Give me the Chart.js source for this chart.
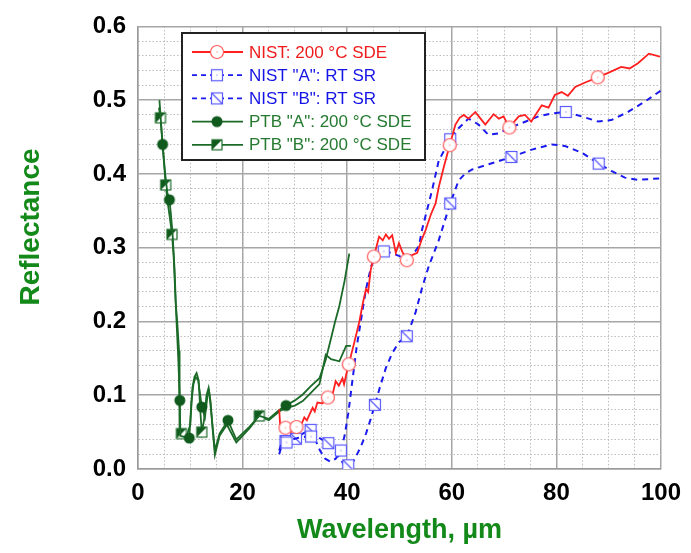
<!DOCTYPE html>
<html>
<head>
<meta charset="utf-8">
<script src="https://cdn.jsdelivr.net/npm/chart.js@4/dist/chart.umd.min.js"></script>
<style>
  html, body { margin: 0; padding: 0; background: #fff; }
  #wrap { width: 691px; height: 553px; }
</style>
</head>
<body>
<div id="wrap"><canvas id="chart" width="691" height="553"></canvas></div>
<script>
/* ==========================================
   DATA (wavelength in um, reflectance)
   ========================================== */

const nistWl = [27.0, 27.2, 28.2, 29.2, 30.3, 31.2, 31.8, 32.3, 32.8, 33.4, 33.8, 34.3, 35.3, 36.3, 37.2, 37.8, 38.4, 39.1, 39.4, 40.1, 40.3, 41.3, 42.3, 43.0, 43.6, 44.0, 44.5, 45.1, 46.1, 46.8, 47.4, 48.0, 48.6, 49.3, 49.9, 50.5, 51.4, 52.4, 53.4, 54.2, 55.0, 56.0, 56.9, 57.5, 58.5, 59.6, 60.7, 61.5, 62.3, 63.2, 64.5, 65.5, 66.4, 68.0, 69.0, 69.9, 71.0, 72.8, 74.0, 75.2, 77.2, 78.5, 79.7, 81.0, 82.2, 83.6, 85.5, 87.9, 89.9, 92.4, 94.0, 95.6, 97.7, 99.8];
const nistR  = [0.081, 0.057, 0.056, 0.050, 0.057, 0.060, 0.070, 0.066, 0.074, 0.083, 0.078, 0.090, 0.089, 0.097, 0.101, 0.119, 0.113, 0.123, 0.115, 0.137, 0.142, 0.170, 0.199, 0.225, 0.244, 0.240, 0.270, 0.288, 0.315, 0.310, 0.318, 0.312, 0.317, 0.293, 0.306, 0.295, 0.283, 0.290, 0.293, 0.310, 0.324, 0.345, 0.360, 0.382, 0.410, 0.439, 0.467, 0.476, 0.480, 0.475, 0.484, 0.475, 0.467, 0.481, 0.475, 0.478, 0.463, 0.478, 0.480, 0.471, 0.493, 0.490, 0.507, 0.511, 0.506, 0.518, 0.524, 0.531, 0.537, 0.545, 0.543, 0.550, 0.563, 0.559];
const nistMarks = [28.2, 30.3, 36.3, 40.3, 45.1, 51.4, 59.6, 71.0, 87.9];

const nistAWl = [27.0, 27.6, 28.4, 29.5, 31.0, 33.1, 34.0, 34.8, 35.8, 36.8, 37.8, 38.8, 39.5, 40.2, 41.0, 41.8, 42.6, 43.6, 44.6, 45.5, 47.0, 48.5, 50.2, 51.8, 53.0, 53.7, 54.3, 55.3, 56.2, 57.5, 59.7, 61.3, 63.2, 65.1, 67.0, 69.0, 70.9, 73.4, 76.6, 79.1, 81.8, 84.8, 88.0, 90.5, 93.7, 96.9, 100];
const nistAR  = [0.025, 0.038, 0.036, 0.040, 0.043, 0.044, 0.038, 0.025, 0.014, 0.010, 0.014, 0.025, 0.045, 0.075, 0.120, 0.165, 0.200, 0.244, 0.275, 0.290, 0.295, 0.293, 0.288, 0.288, 0.295, 0.302, 0.324, 0.352, 0.377, 0.418, 0.447, 0.462, 0.475, 0.467, 0.453, 0.455, 0.462, 0.469, 0.478, 0.482, 0.484, 0.478, 0.471, 0.473, 0.484, 0.498, 0.513];
const nistAMarks = [28.4, 33.1, 38.8, 47.0, 59.7, 81.8];

const nistBWl = [27.0, 27.6, 28.2, 30.2, 31.5, 33.0, 34.0, 35.2, 36.4, 37.5, 38.5, 39.3, 40.2, 41.0, 41.6, 42.6, 43.6, 44.5, 45.3, 46.3, 47.4, 48.6, 49.9, 51.4, 52.2, 53.1, 54.3, 55.6, 57.5, 58.6, 59.7, 61.3, 62.5, 63.9, 67.0, 71.4, 75.3, 79.1, 81.6, 84.8, 88.1, 90.5, 93.1, 95.6, 100];
const nistBR  = [0.020, 0.035, 0.038, 0.041, 0.048, 0.053, 0.045, 0.040, 0.035, 0.025, 0.015, 0.007, 0.005, 0.008, 0.016, 0.030, 0.048, 0.068, 0.087, 0.112, 0.137, 0.157, 0.172, 0.180, 0.195, 0.213, 0.245, 0.275, 0.310, 0.335, 0.360, 0.391, 0.400, 0.406, 0.413, 0.423, 0.433, 0.440, 0.438, 0.429, 0.414, 0.404, 0.395, 0.392, 0.394];
const nistBMarks = [28.2, 30.2, 33.0, 36.4, 40.2, 45.3, 51.4, 59.7, 71.4, 88.1];

const ptbAWl = [4.1, 4.4, 4.7, 5.2, 5.6, 6.0, 6.3, 6.6, 7.0, 7.3, 7.7, 8.0, 8.1, 9.8, 10.2, 10.6, 11.0, 11.5, 11.9, 12.2, 12.8, 13.3, 13.6, 14.1, 14.7, 15.6, 17.2, 18.8, 21.3, 23.2, 25.0, 27.0, 28.3, 30.0, 31.5, 33.0, 34.7, 35.9, 36.9, 37.7, 38.5, 39.5, 40.4];
const ptbAR  = [0.500, 0.470, 0.440, 0.400, 0.375, 0.365, 0.345, 0.320, 0.270, 0.210, 0.150, 0.093, 0.045, 0.042, 0.090, 0.115, 0.125, 0.120, 0.100, 0.084, 0.070, 0.100, 0.105, 0.070, 0.025, 0.048, 0.066, 0.040, 0.057, 0.072, 0.068, 0.080, 0.086, 0.093, 0.101, 0.112, 0.123, 0.148, 0.177, 0.200, 0.221, 0.255, 0.292];
const ptbAMarks = [4.7, 6.0, 8.0, 9.8, 12.2, 17.2, 28.3];

const ptbBWl = [4.0, 4.3, 4.8, 5.3, 5.7, 6.1, 6.5, 6.8, 7.2, 7.5, 7.85, 7.95, 8.3, 9.3, 10.0, 10.4, 10.8, 11.2, 11.6, 11.9, 12.2, 12.6, 13.1, 13.5, 13.9, 14.2, 14.7, 15.6, 17.0, 18.8, 21.3, 23.2, 25.0, 27.0, 28.3, 30.0, 31.5, 33.0, 34.7, 35.9, 36.9, 38.5, 39.8, 40.7];
const ptbBR  = [0.490, 0.476, 0.430, 0.385, 0.360, 0.340, 0.318, 0.290, 0.226, 0.200, 0.160, 0.050, 0.048, 0.045, 0.060, 0.110, 0.125, 0.130, 0.120, 0.080, 0.050, 0.065, 0.100, 0.110, 0.090, 0.060, 0.019, 0.045, 0.060, 0.036, 0.055, 0.072, 0.066, 0.078, 0.083, 0.086, 0.092, 0.103, 0.115, 0.155, 0.149, 0.146, 0.167, 0.167];
const ptbBMarks = [4.3, 5.3, 6.5, 8.3, 12.2, 23.2];

const seriesNames = ['NIST: 200 °C SDE', 'NIST "A": RT SR', 'NIST "B": RT SR', 'PTB "A": 200 °C SDE', 'PTB "B": 200 °C SDE'];
const xTicks = [0, 20, 40, 60, 80, 100];
const yTicks = [0, 0.1, 0.2, 0.3, 0.4, 0.5, 0.6];
const yTitle = 'Reflectance';

/* COLOURS */
const RED = '#ff1f1f', RED_MK = '#ff5a5a';
const BLUE = '#1a1aee', BLUE_MK = '#5a5aff';
const GREEN = '#1b6a28', GREEN_TXT = '#257a30';
const TITLE_GREEN = '#13891a';

/* MARKER ICONS */
function makeIcon(kind) {
  const c = document.createElement('canvas');
  c.width = 16; c.height = 16;
  const g = c.getContext('2d');
  g.lineWidth = 1.2;
  if (kind === 'nist') {
    g.beginPath(); g.arc(8, 8, 6.5, 0, Math.PI * 2);
    g.fillStyle = '#fff'; g.fill(); g.strokeStyle = RED_MK; g.stroke();
    g.fillStyle = RED_MK; g.fillRect(7.5, 7.5, 1, 1);
  } else if (kind === 'nistA' || kind === 'nistB') {
    g.fillStyle = '#fff'; g.fillRect(2.5, 2.5, 11, 11);
    g.strokeStyle = BLUE_MK; g.strokeRect(2.5, 2.5, 11, 11);
    if (kind === 'nistA') { g.fillStyle = BLUE_MK; g.fillRect(7.5, 7.5, 1, 1); }
    else { g.beginPath(); g.moveTo(2.5, 2.5); g.lineTo(13.5, 13.5); g.stroke(); }
  } else if (kind === 'ptbA') {
    g.beginPath(); g.arc(8, 8, 5.5, 0, Math.PI * 2);
    g.fillStyle = '#0f5a1c'; g.fill();
  } else {
    g.fillStyle = '#fff'; g.fillRect(3, 3, 10, 10);
    g.beginPath(); g.moveTo(3, 3); g.lineTo(13, 3); g.lineTo(3, 13); g.closePath();
    g.fillStyle = '#0f5a1c'; g.fill();
    g.strokeStyle = GREEN; g.strokeRect(3, 3, 10, 10);
  }
  return c;
}

const icons = {
  nist: makeIcon('nist'), nistA: makeIcon('nistA'), nistB: makeIcon('nistB'),
  ptbA: makeIcon('ptbA'), ptbB: makeIcon('ptbB')
};

function toPoints(wl, r) { return wl.map((x, i) => ({ x: x, y: r[i] })); }

function makeSet(label, wl, r, marks, color, icon, dash) {
  return {
    label: label,
    data: toPoints(wl, r),
    borderColor: color,
    borderWidth: dash ? 2 : 1.8,
    borderDash: dash || [],
    tension: 0,
    fill: false,
    pointStyle: icon,
    pointRadius: ctx => (ctx.raw && marks.includes(ctx.raw.x)) ? 5 : 0,
    pointHoverRadius: 0
  };
}

/* LEGEND */
const legendRows = [
  { text: seriesNames[0], color: RED, txt: '#ee1c1c', icon: icons.nist, dash: null },
  { text: seriesNames[1], color: BLUE, txt: '#1414e6', icon: icons.nistA, dash: [5, 4] },
  { text: seriesNames[2], color: BLUE, txt: '#1414e6', icon: icons.nistB, dash: [5, 4] },
  { text: seriesNames[3], color: GREEN, txt: GREEN_TXT, icon: icons.ptbA, dash: null },
  { text: seriesNames[4], color: GREEN, txt: GREEN_TXT, icon: icons.ptbB, dash: null }
];

const boxLegend = {
  id: 'boxLegend',
  afterDraw(chart) {
    const ctx = chart.ctx;
    ctx.save();
    ctx.fillStyle = '#fff';
    ctx.fillRect(182, 33, 243, 127);
    ctx.strokeStyle = '#222';
    ctx.lineWidth = 2;
    ctx.strokeRect(182, 33, 243, 127);
    ctx.font = '17px "Liberation Sans", Arial, sans-serif';
    ctx.textBaseline = 'middle';
    legendRows.forEach((row, i) => {
      const y = 52 + i * 23.2;
      ctx.beginPath();
      ctx.setLineDash(row.dash || []);
      ctx.strokeStyle = row.color;
      ctx.lineWidth = 1.8;
      ctx.moveTo(192, y); ctx.lineTo(243, y);
      ctx.stroke();
      ctx.setLineDash([]);
      ctx.drawImage(row.icon, 217 - 8, y - 8);
      ctx.fillStyle = row.txt;
      ctx.fillText(row.text, 249, y + 1);
    });
    ctx.restore();
  }
};

/* y title sits a bit above the axis centre in the reference */
const yTitlePlugin = {
  id: 'yTitlePlugin',
  afterDraw(chart) {
    const ctx = chart.ctx;
    ctx.save();
    ctx.translate(31, 227);
    ctx.rotate(-Math.PI / 2);
    ctx.font = 'bold 28px "Liberation Sans", Arial, sans-serif';
    ctx.fillStyle = TITLE_GREEN;
    ctx.textAlign = 'center';
    ctx.textBaseline = 'middle';
    ctx.fillText(yTitle, 0, 0);
    ctx.restore();
  }
};

const whiteBg = {
  id: 'whiteBg',
  beforeDraw(chart) {
    const ctx = chart.ctx;
    ctx.save();
    ctx.fillStyle = '#fff';
    ctx.fillRect(0, 0, chart.width, chart.height);
    ctx.restore();
  }
};

/* GRID HELPERS */
const isMajorX = v => xTicks.some(t => Math.abs(t - v) < 1e-6);
const isMajorY = v => yTicks.some(t => Math.abs(t - v) < 1e-6);
const tickFont = { family: '"Liberation Sans", Arial, sans-serif', size: 24, weight: 'bold' };
const titleFont = { family: '"Liberation Sans", Arial, sans-serif', size: 27, weight: 'bold' };

/* CHART */
new Chart(document.getElementById('chart').getContext('2d'), {
  type: 'line',
  data: {
    datasets: [
      makeSet(seriesNames[0], nistWl, nistR, nistMarks, RED, icons.nist, null),
      makeSet(seriesNames[1], nistAWl, nistAR, nistAMarks, BLUE, icons.nistA, [6, 5]),
      makeSet(seriesNames[2], nistBWl, nistBR, nistBMarks, BLUE, icons.nistB, [6, 5]),
      makeSet(seriesNames[3], ptbAWl, ptbAR, ptbAMarks, GREEN, icons.ptbA, null),
      makeSet(seriesNames[4], ptbBWl, ptbBR, ptbBMarks, GREEN, icons.ptbB, null)
    ]
  },
  options: {
    responsive: false,
    animation: false,
    events: [],
    layout: { padding: { left: 0, top: 20, right: 28, bottom: 0 } },
    plugins: { legend: { display: false }, tooltip: { enabled: false } },
    scales: {
      x: {
        type: 'linear', min: 0, max: 100,
        afterFit: s => { s.height = 84; },
        ticks: {
          stepSize: 5, autoSkip: false, maxRotation: 0, maxTicksLimit: 100,
          padding: 10, color: '#000', font: tickFont,
          callback: v => isMajorX(v) ? String(v) : ''
        },
        grid: {
          drawTicks: false,
          color: ctx => isMajorX(ctx.tick.value) ? '#a6a6a6' : '#bdbdbd',
          lineWidth: ctx => isMajorX(ctx.tick.value) ? 1.5 : 1
        },
        border: {
          color: '#9a9a9a', width: 1.5,
          dash: ctx => (ctx.tick && !isMajorX(ctx.tick.value)) ? [1.5, 2] : []
        },
        title: { display: true, text: 'Wavelength, µm', color: TITLE_GREEN, font: titleFont, padding: { top: 0, bottom: 6 } }
      },
      y: {
        type: 'linear', min: 0, max: 0.6,
        afterFit: s => { s.width = 138; },
        ticks: {
          stepSize: 0.02, autoSkip: false, maxTicksLimit: 100,
          padding: 12, color: '#000', font: tickFont,
          callback: v => isMajorY(v) ? v.toFixed(1) : ''
        },
        grid: {
          drawTicks: false,
          color: ctx => isMajorY(ctx.tick.value) ? '#a6a6a6' : '#bdbdbd',
          lineWidth: ctx => isMajorY(ctx.tick.value) ? 1.5 : 1
        },
        border: {
          color: '#9a9a9a', width: 1.5,
          dash: ctx => (ctx.tick && !isMajorY(ctx.tick.value)) ? [1.5, 2] : []
        },
        title: { display: false }
      }
    }
  },
  plugins: [whiteBg, boxLegend, yTitlePlugin]
});
</script>
</body>
</html>
